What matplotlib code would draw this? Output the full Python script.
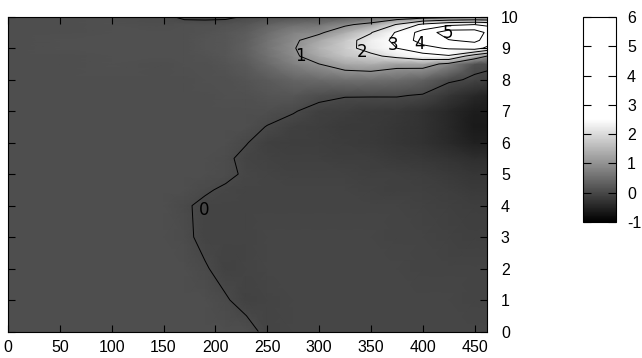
import numpy as np
import matplotlib
matplotlib.use("Agg")
import matplotlib.pyplot as plt
from matplotlib.colors import LinearSegmentedColormap, Normalize

plt.rcParams["axes.unicode_minus"] = False

# grid nodes of the field
x_nodes = [0, 50, 100, 150, 170, 190, 210, 230, 250, 275, 300, 325, 350, 375, 400, 425, 450, 462]
y_nodes = [0, 1, 2, 3, 4, 4.5, 5, 5.5, 6, 6.5, 7, 7.5, 8, 8.5, 8.75, 9, 9.25, 9.5, 9.75, 10]

# field values, one row per y node (bottom to top)
z_rows = [
    [0.08, 0.08, 0.08, 0.08, 0.08, 0.08, 0.08, 0.08, -0.06, -0.04, -0.02, -0.02, -0.02, -0.02, -0.02, -0.03, -0.04, -0.04],
    [0.08, 0.08, 0.08, 0.08, 0.08, 0.08, 0.02, -0.08, -0.05, -0.03, -0.02, -0.02, -0.02, -0.02, -0.03, -0.04, -0.05, -0.05],
    [0.08, 0.08, 0.08, 0.08, 0.08, 0.02, -0.08, -0.06, -0.04, -0.03, -0.03, -0.03, -0.03, -0.04, -0.05, -0.06, -0.07, -0.07],
    [0.08, 0.08, 0.08, 0.08, 0.05, -0.06, -0.06, -0.05, -0.04, -0.04, -0.04, -0.04, -0.04, -0.05, -0.06, -0.08, -0.10, -0.10],
    [0.08, 0.08, 0.08, 0.08, 0.03, -0.05, -0.05, -0.05, -0.05, -0.05, -0.05, -0.05, -0.06, -0.07, -0.09, -0.11, -0.13, -0.13],
    [0.08, 0.08, 0.08, 0.08, 0.08, 0.03, -0.04, -0.06, -0.07, -0.07, -0.07, -0.07, -0.08, -0.10, -0.12, -0.15, -0.18, -0.18],
    [0.08, 0.08, 0.08, 0.08, 0.08, 0.08, 0.06, -0.04, -0.07, -0.08, -0.08, -0.09, -0.10, -0.12, -0.15, -0.20, -0.25, -0.25],
    [0.08, 0.08, 0.08, 0.08, 0.08, 0.08, 0.04, -0.06, -0.09, -0.11, -0.12, -0.13, -0.15, -0.18, -0.22, -0.28, -0.35, -0.35],
    [0.08, 0.08, 0.08, 0.08, 0.08, 0.08, 0.08, 0.01, -0.10, -0.13, -0.15, -0.17, -0.20, -0.25, -0.30, -0.40, -0.55, -0.55],
    [0.08, 0.08, 0.08, 0.08, 0.08, 0.08, 0.08, 0.08, -0.01, -0.10, -0.15, -0.18, -0.20, -0.24, -0.30, -0.45, -0.62, -0.62],
    [0.08, 0.08, 0.08, 0.08, 0.08, 0.08, 0.08, 0.08, 0.09, 0.02, -0.10, -0.15, -0.18, -0.22, -0.30, -0.45, -0.60, -0.60],
    [0.08, 0.08, 0.08, 0.08, 0.08, 0.09, 0.10, 0.12, 0.16, 0.20, 0.08, 0.02, 0.02, 0.025, -0.03, -0.25, -0.45, -0.50],
    [0.08, 0.08, 0.08, 0.08, 0.09, 0.10, 0.12, 0.16, 0.25, 0.38, 0.45, 0.55, 0.55, 0.50, 0.35, 0.06, -0.05, -0.10],
    [0.08, 0.09, 0.10, 0.09, 0.10, 0.12, 0.16, 0.25, 0.45, 0.75, 1.00, 1.30, 1.40, 1.20, 1.25, 0.85, 0.10, 0.08],
    [0.08, 0.09, 0.11, 0.10, 0.11, 0.14, 0.19, 0.30, 0.55, 0.90, 1.30, 1.70, 1.85, 2.20, 2.60, 2.90, 1.50, 1.00],
    [0.08, 0.10, 0.12, 0.10, 0.12, 0.15, 0.20, 0.32, 0.60, 0.95, 1.45, 1.80, 2.25, 3.00, 3.70, 4.10, 4.40, 3.80],
    [0.08, 0.10, 0.12, 0.10, 0.12, 0.15, 0.20, 0.31, 0.58, 0.90, 1.30, 1.75, 2.30, 3.30, 4.40, 4.95, 5.20, 4.70],
    [0.08, 0.09, 0.11, 0.10, 0.11, 0.14, 0.18, 0.28, 0.50, 0.78, 0.90, 1.40, 1.95, 3.10, 4.40, 5.50, 5.50, 4.85],
    [0.08, 0.09, 0.10, 0.09, 0.10, 0.11, 0.13, 0.20, 0.35, 0.52, 0.60, 0.90, 1.20, 2.05, 3.20, 3.80, 4.00, 3.80],
    [0.08, 0.08, 0.08, 0.06, -0.06, -0.08, -0.07, 0.03, 0.08, 0.12, 0.15, 0.20, 0.30, 0.40, 0.50, 0.60, 0.70, 0.70],
]

levels = [0, 1, 2, 3, 4, 5]
# where each contour level gets its number written
label_x = [189, 282, 341, 371, 397, 424.5]
label_y = [3.85, 8.75, 8.88, 9.1, 9.13, 9.48]

x_ticks = list(range(0, 451, 50))
y_ticks = list(range(0, 11))
cb_ticks = list(range(-1, 7))

tick_font = "Liberation Sans"

z = np.array(z_rows)

# gray palette: black at -1, white from 2.5 upwards
cmap = LinearSegmentedColormap.from_list("grey_sat", [(0.0, "black"), (0.5, "white"), (1.0, "white")])
norm = Normalize(vmin=-1, vmax=6)

fig = plt.figure(figsize=(6.42, 3.58), dpi=100)
ax = fig.add_axes([0.0125, 0.074, 0.7461, 0.8793])
cax = fig.add_axes([0.908, 0.38, 0.0514, 0.5726])

mesh = ax.pcolormesh(x_nodes, y_nodes, z, cmap=cmap, norm=norm, shading="gouraud")
ax.contour(x_nodes, y_nodes, z, levels=levels, colors="black", linewidths=0.7)

for lev, lx, ly in zip(levels, label_x, label_y):
    ax.text(lx, ly, str(lev), fontsize=12, family="DejaVu Sans",
            ha="center", va="center", color="black")

ax.set_xlim(0, 462)
ax.set_ylim(0, 10)
ax.set_xticks(x_ticks)
ax.set_yticks(y_ticks)
ax.tick_params(direction="in", top=True, right=True, left=True, bottom=True,
               labelleft=False, labelright=True, length=5, width=0.8)
ax.tick_params(axis="x", pad=6)
ax.tick_params(axis="y", pad=10)
for lab in ax.get_xticklabels() + ax.get_yticklabels():
    lab.set_fontfamily(tick_font)
    lab.set_fontsize(11.5)
for sp in ax.spines.values():
    sp.set_linewidth(0.8)

cb = fig.colorbar(mesh, cax=cax, ticks=cb_ticks)
cb.outline.set_linewidth(0.8)
cax.tick_params(direction="in", left=True, right=True, length=6, width=0.8, pad=8)
for lab in cax.get_yticklabels():
    lab.set_fontfamily(tick_font)
    lab.set_fontsize(11.5)

fig.savefig("out.png", dpi=100)
